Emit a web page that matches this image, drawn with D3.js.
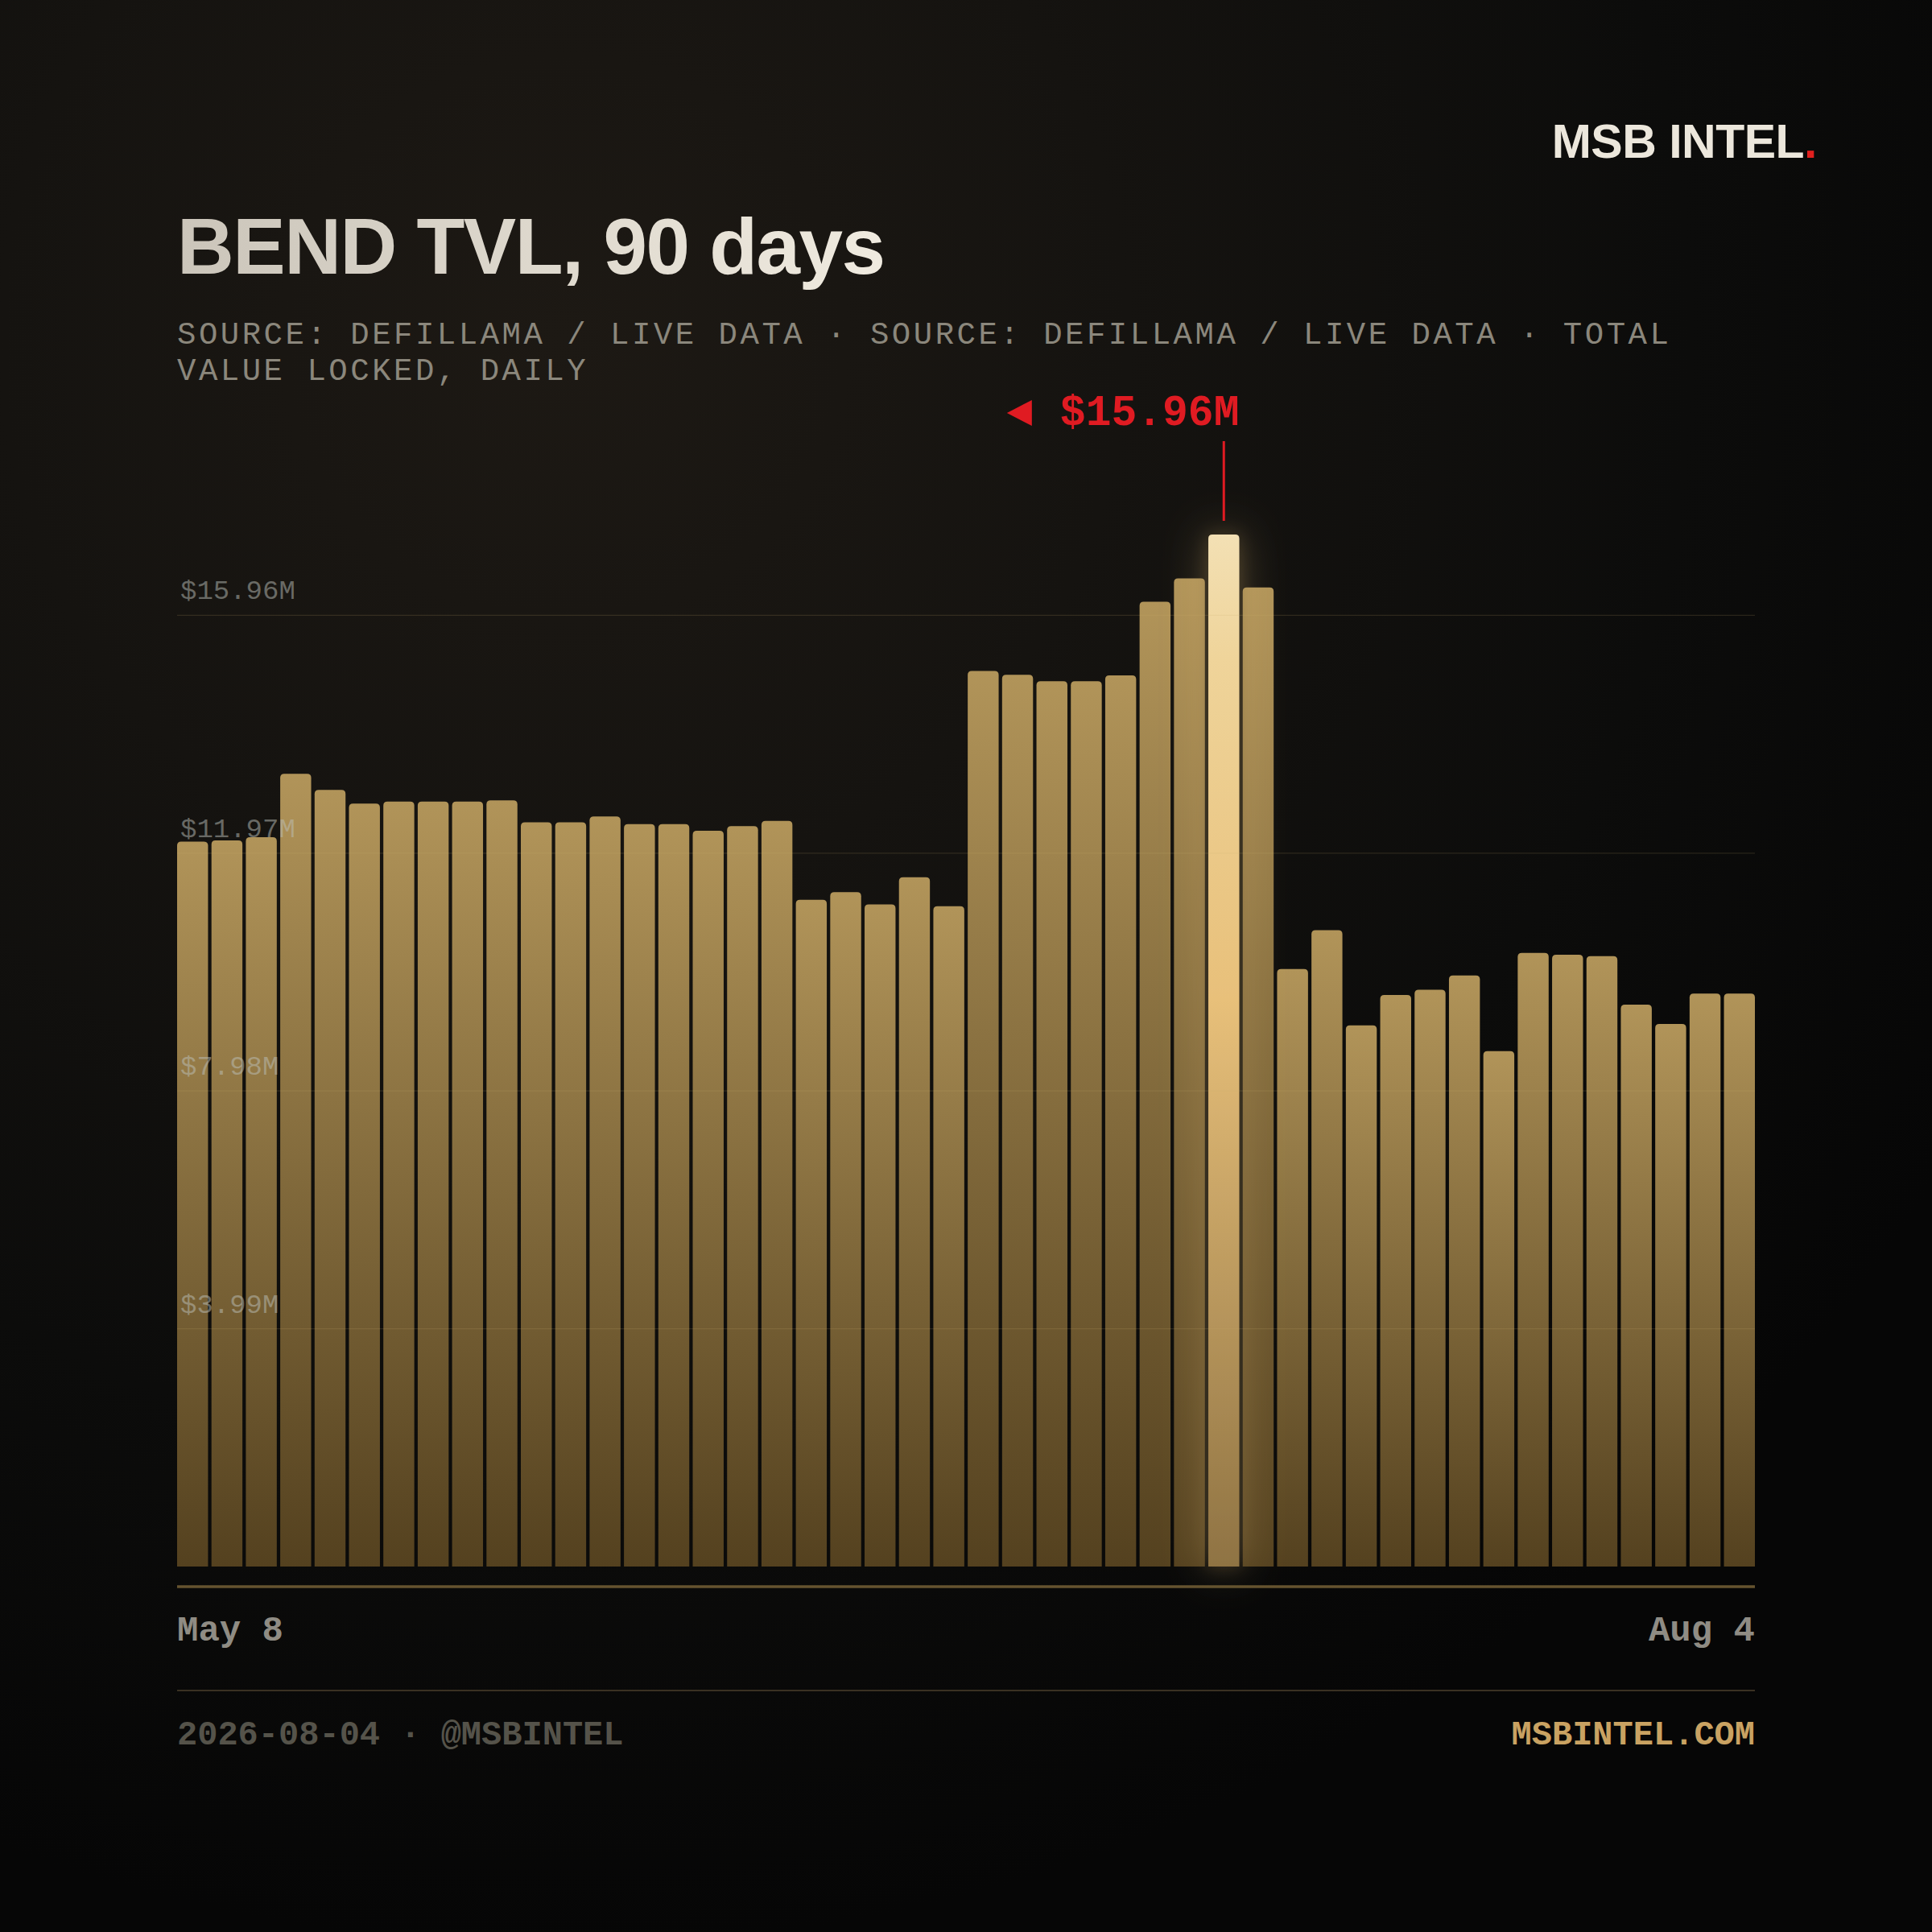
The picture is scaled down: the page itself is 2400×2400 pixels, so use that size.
<!DOCTYPE html>
<html><head><meta charset="utf-8">
<script src="https://cdn.jsdelivr.net/npm/d3@7"></script>
<style>html,body{margin:0;padding:0;background:#0a0a09;} svg{display:block}</style>
</head><body>
<script>
// ---- data (TVL in $M, one bar per sample, May 8 → Aug 4) ----
const tvlValues = [11.21, 11.23, 11.28, 12.26, 12.01, 11.80, 11.83, 11.83, 11.83, 11.85,
  11.51, 11.51, 11.60, 11.48, 11.48, 11.38, 11.45, 11.53, 10.31, 10.43,
  10.24, 10.66, 10.21, 13.85, 13.79, 13.69, 13.69, 13.78, 14.92, 15.28,
  15.96, 15.14, 9.24, 9.84, 8.37, 8.84, 8.92, 9.14, 7.97, 9.49,
  9.46, 9.44, 8.69, 8.39, 8.86, 8.86];
const xLabels = ["May 8", "Aug 4"];
const tickFractions = [0.25, 0.5, 0.75, 1];
const titleText = "BEND TVL, 90 days";
const subtitleLines = ["SOURCE: DEFILLAMA / LIVE DATA · SOURCE: DEFILLAMA / LIVE DATA · TOTAL",
                       "VALUE LOCKED, DAILY"];
const brandText = "MSB INTEL";
const footerLeft = "2026-08-04 · @MSBINTEL";
const footerRight = "MSBINTEL.COM";

(function () {
// ---- layout ----
const W = 2400, H = 2400;
const plotLeft = 220, plotRight = 2180, plotBase = 1946, plotTop = 664;
const SANS = "'Liberation Sans', Arial, Helvetica, sans-serif";
const MONO = "'Liberation Mono', 'DejaVu Sans Mono', monospace";

const svg = d3.select("body").append("svg").attr("width", W).attr("height", H);
const defs = svg.append("defs");

const bg = defs.append("radialGradient").attr("id", "bg").attr("gradientUnits", "userSpaceOnUse")
  .attr("cx", 700).attr("cy", 420).attr("r", 2000);
[[0, "#1d1914"], [0.35, "#151310"], [0.7, "#0c0c0b"], [1, "#060606"]].forEach(s =>
  bg.append("stop").attr("offset", s[0]).attr("stop-color", s[1]));

const bgr = defs.append("linearGradient").attr("id", "barGrad").attr("x1", 0).attr("y1", 0).attr("x2", 0).attr("y2", 1);
[[0, "#b19459"], [1, "#54411f"]].forEach(s => bgr.append("stop").attr("offset", s[0]).attr("stop-color", s[1]));

const pgr = defs.append("linearGradient").attr("id", "peakGrad").attr("x1", 0).attr("y1", 0).attr("x2", 0).attr("y2", 1);
[[0, "#f3e0b4"], [0.12, "#efd49a"], [0.45, "#e8c07a"], [1, "#8f7343"]].forEach(s =>
  pgr.append("stop").attr("offset", s[0]).attr("stop-color", s[1]));

const tg = defs.append("linearGradient").attr("id", "titleGrad").attr("gradientUnits", "userSpaceOnUse")
  .attr("x1", 220).attr("y1", 0).attr("x2", 1110).attr("y2", 0);
[[0, "#cbc5ba"], [1, "#f0ebe0"]].forEach(s => tg.append("stop").attr("offset", s[0]).attr("stop-color", s[1]));

const glow = defs.append("filter").attr("id", "glow").attr("x", "-200%").attr("y", "-20%")
  .attr("width", "500%").attr("height", "140%");
glow.append("feGaussianBlur").attr("in", "SourceAlpha").attr("stdDeviation", 10).attr("result", "b1");
glow.append("feFlood").attr("flood-color", "#000").attr("flood-opacity", 0.45).attr("result", "f1");
glow.append("feComposite").attr("in", "f1").attr("in2", "b1").attr("operator", "in").attr("result", "shadow");
glow.append("feGaussianBlur").attr("in", "SourceAlpha").attr("stdDeviation", 28).attr("result", "b2");
glow.append("feFlood").attr("flood-color", "#e8c27a").attr("flood-opacity", 0.3).attr("result", "f2");
glow.append("feComposite").attr("in", "f2").attr("in2", "b2").attr("operator", "in").attr("result", "halo");
const fm = glow.append("feMerge");
fm.append("feMergeNode").attr("in", "shadow");
fm.append("feMergeNode").attr("in", "halo");
fm.append("feMergeNode").attr("in", "SourceGraphic");

svg.append("rect").attr("width", W).attr("height", H).attr("fill", "url(#bg)");

// ---- scales ----
const maxVal = d3.max(tvlValues);
const peakIdx = tvlValues.indexOf(maxVal);
const x = d3.scaleBand().domain(d3.range(tvlValues.length)).range([plotLeft, plotRight]).paddingInner(0.1).paddingOuter(0);
const y = d3.scaleLinear().domain([0, maxVal]).range([plotBase, plotTop]);
const yGrid = d3.scaleLinear().domain([0, maxVal * 1.085]).range([plotBase, plotTop]);
const ticks = tickFractions.map(f => +(maxVal * f).toFixed(2));
const fmt = v => "$" + v.toFixed(2) + "M";

function barPath(x0, y0, w, h, r) {
  r = Math.min(r, w / 2, h);
  return `M${x0},${y0 + h}V${y0 + r}Q${x0},${y0} ${x0 + r},${y0}H${x0 + w - r}Q${x0 + w},${y0} ${x0 + w},${y0 + r}V${y0 + h}Z`;
}

// ---- bars ----
const bars = svg.append("g");
bars.selectAll("path.bar").data(tvlValues.map((v, i) => ({ v, i })).filter(d => d.i !== peakIdx))
  .join("path").attr("class", "bar")
  .attr("d", d => barPath(x(d.i), y(d.v), x.bandwidth(), plotBase - y(d.v), 5))
  .attr("fill", "url(#barGrad)");
bars.append("path")
  .attr("d", barPath(x(peakIdx), y(maxVal), x.bandwidth(), plotBase - y(maxVal), 5))
  .attr("fill", "url(#peakGrad)").attr("filter", "url(#glow)");

// ---- grid + labels ----
const grid = svg.append("g");
grid.selectAll("line").data(ticks).join("line")
  .attr("x1", plotLeft).attr("x2", plotRight)
  .attr("y1", d => yGrid(d)).attr("y2", d => yGrid(d))
  .attr("stroke", "rgba(205,175,115,0.16)").attr("stroke-width", 1.2);
grid.selectAll("text").data(ticks).join("text")
  .attr("x", plotLeft + 4).attr("y", d => yGrid(d) - 20)
  .attr("font-family", MONO).attr("font-size", 34)
  .attr("fill", "rgb(188,192,186)").attr("fill-opacity", 0.5)
  .text(d => fmt(d));

// axis line
svg.append("line").attr("x1", plotLeft).attr("x2", plotRight).attr("y1", 1971).attr("y2", 1971)
  .attr("stroke", "#65532f").attr("stroke-width", 3.5);

// x labels
svg.append("text").attr("x", plotLeft).attr("y", 2038).attr("font-family", MONO).attr("font-weight", 700)
  .attr("font-size", 44).attr("fill", "#8f8c84").text(xLabels[0]);
svg.append("text").attr("x", plotRight).attr("y", 2038).attr("text-anchor", "end").attr("font-family", MONO)
  .attr("font-weight", 700).attr("font-size", 44).attr("fill", "#8f8c84").text(xLabels[1]);

// ---- annotation ----
const px = x(peakIdx) + x.bandwidth() / 2;
svg.append("line").attr("x1", px).attr("x2", px).attr("y1", 548).attr("y2", y(maxVal) - 17)
  .attr("stroke", "#e01b22").attr("stroke-width", 3);
const ann = svg.append("text").attr("x", x(peakIdx) + x.bandwidth()).attr("y", 528)
  .attr("text-anchor", "end").attr("font-family", MONO).attr("font-weight", 700)
  .attr("font-size", 53).attr("fill", "#e01b22").text(fmt(maxVal));
const annStart = x(peakIdx) + x.bandwidth() - ann.node().getComputedTextLength();
svg.append("path")
  .attr("d", `M${annStart - 66},${513}L${annStart - 35},${497}L${annStart - 35},${529}Z`)
  .attr("fill", "#e01b22");

// ---- header ----
svg.append("text").attr("x", 220).attr("y", 340).attr("font-family", SANS).attr("font-weight", 700)
  .attr("font-size", 98).attr("letter-spacing", -1.5).attr("fill", "url(#titleGrad)").text(titleText);
const sub = svg.append("text").attr("font-family", MONO).attr("font-size", 39)
  .attr("letter-spacing", 3.5).attr("fill", "#8b877c");
subtitleLines.forEach((l, i) => sub.append("tspan").attr("x", 220).attr("y", 427 + i * 45).text(l));

const brand = svg.append("text").attr("x", 2257).attr("y", 196).attr("text-anchor", "end")
  .attr("font-family", SANS).attr("font-weight", 700).attr("font-size", 59)
  .attr("letter-spacing", -0.5).attr("fill", "#ece7dc");
brand.append("tspan").text(brandText);
brand.append("tspan").attr("fill", "#e0201e").text(".");

// ---- footer ----
svg.append("line").attr("x1", plotLeft).attr("x2", plotRight).attr("y1", 2100).attr("y2", 2100)
  .attr("stroke", "#3a3122").attr("stroke-width", 2);
svg.append("text").attr("x", plotLeft).attr("y", 2167).attr("font-family", MONO).attr("font-weight", 700)
  .attr("font-size", 42).attr("fill", "#55534a").text(footerLeft);
svg.append("text").attr("x", plotRight).attr("y", 2167).attr("text-anchor", "end").attr("font-family", MONO)
  .attr("font-weight", 700).attr("font-size", 42).attr("fill", "#c9a262").text(footerRight);
})();
</script>
</body></html>
